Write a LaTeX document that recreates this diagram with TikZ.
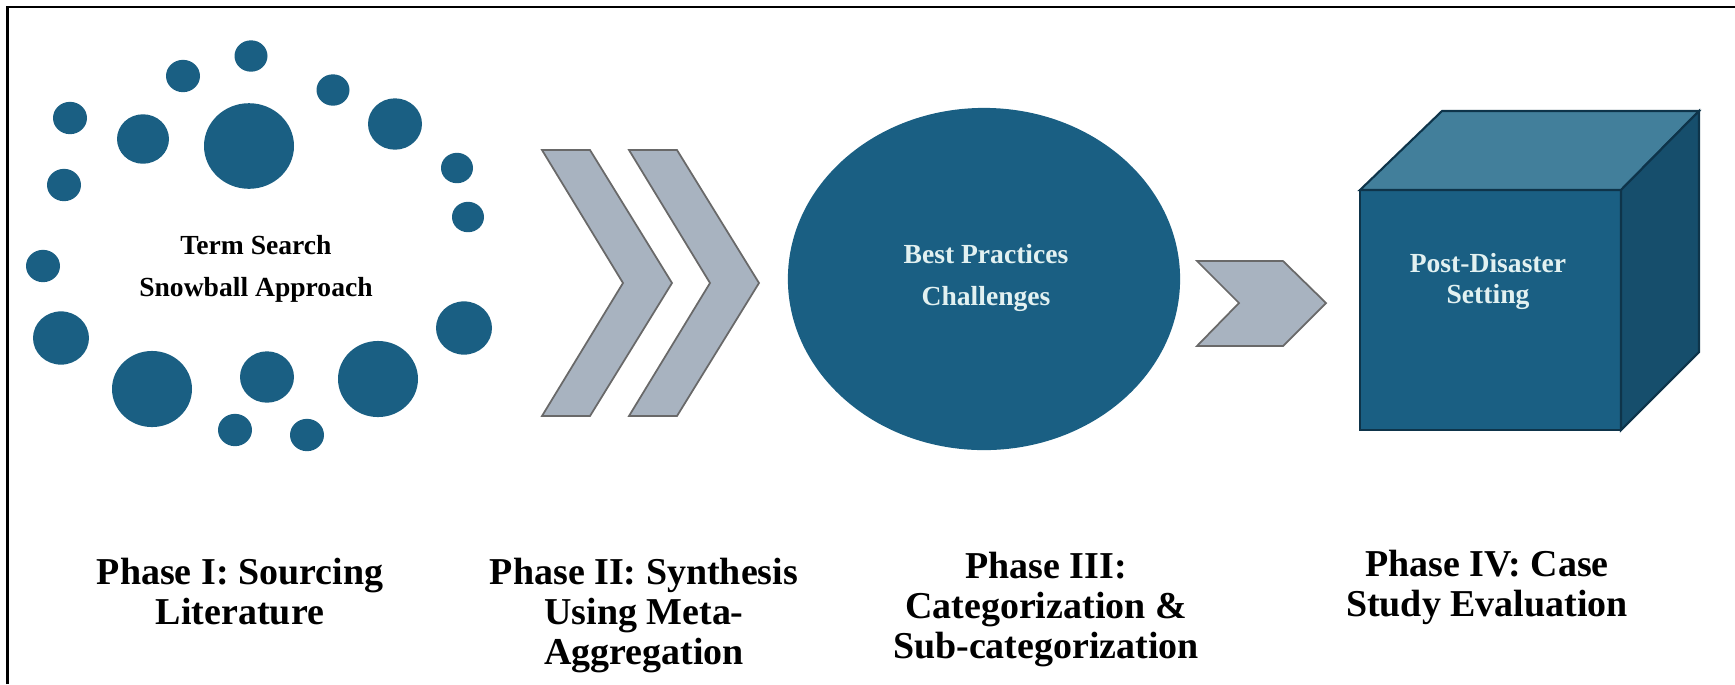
\documentclass[tikz,border=0pt]{standalone}
\usepackage{fontspec}
\setmainfont{Liberation Serif}
\usepackage{xcolor}
\usepackage{tikz}

\definecolor{dotblue}{RGB}{26,95,131}
\definecolor{cubetop}{RGB}{66,127,155}
\definecolor{cubeside}{RGB}{22,78,108}
\definecolor{cubeline}{RGB}{14,52,74}
\definecolor{chevgray}{RGB}{168,179,192}
\definecolor{chevline}{RGB}{105,105,105}
\definecolor{palefont}{RGB}{226,241,241}

\begin{document}
\begin{tikzpicture}[x=0.01cm, y=-0.01cm,
    phase/.style={align=center, anchor=north, inner sep=0pt,
      font=\bfseries\fontsize{10.8}{11.4}\selectfont},
    inner/.style={align=center, anchor=north, inner sep=0pt,
      font=\bfseries\fontsize{7.85}{11.8}\selectfont},
    chevron/.style={fill=chevgray, draw=chevline, line width=0.5pt},
    cubeface/.style={draw=cubeline, line width=0.6pt, line join=miter}]
      \useasboundingbox (0,0) rectangle (1735,684);
      \draw[line width=0.6pt] (7.5,684) -- (7.5,7) -- (1735,7);

      % ring of dots round the search terms
      \foreach \x/\y/\r in {251/56/16.5, 183/76/17, 333/90/16.5, 70/118/17, 143/139/26,
          249/146/45, 395/124/27, 457/168/16, 64/185/17, 468/217/16, 43/266/17,
          61/338/28, 464/328/28, 152/389/40, 267/377/27, 378/379/40, 235/430/17, 307/435/17} {
        \fill[dotblue] (\x,\y) ellipse [x radius=\r*0.01cm, y radius=\r*0.0095cm];
      }
      \node[inner] (terms) at (256,235) {Term Search\\Snowball Approach};

      % double chevron
      \foreach \dx in {0,87} {
        \draw[chevron] (542+\dx,150) -- ++(48,0) -- ++(82,133) -- ++(-82,133)
          -- ++(-48,0) -- ++(81,-133) -- cycle;
      }

      % big oval and single chevron
      \fill[dotblue] (984,279) ellipse [x radius=1.96cm, y radius=1.71cm];
      \node[inner, text=palefont] (practices) at (986,244) {Best Practices\\Challenges};
      \draw[chevron] (1197,261) -- (1283,261) -- (1326,303) -- (1283,346)
        -- (1197,346) -- (1239,303) -- cycle;

      % cube
      \filldraw[cubeface, fill=dotblue] (1360,190) rectangle (1621,430);
      \filldraw[cubeface, fill=cubetop] (1360,190) -- (1442,111) -- (1699,111) -- (1621,190) -- cycle;
      \filldraw[cubeface, fill=cubeside] (1621,190) -- (1699,111) -- (1699,352) -- (1621,430) -- cycle;
      \node[inner, text=palefont, font=\bfseries\fontsize{7.85}{8.6}\selectfont] (setting) at (1488,253)
        {Post-Disaster\\Setting};

      % phase captions
      \node[phase] (phaseI) at (240,557) {Phase I: Sourcing\\Literature};
      \node[phase] (phaseII) at (644,557) {Phase II: Synthesis\\Using Meta-\\Aggregation};
      \node[phase] (phaseIII) at (1046,551) {Phase III:\\Categorization \&\\Sub-categorization};
      \node[phase] (phaseIV) at (1487,549) {Phase IV: Case\\Study Evaluation};
    \end{tikzpicture}
\end{document}
